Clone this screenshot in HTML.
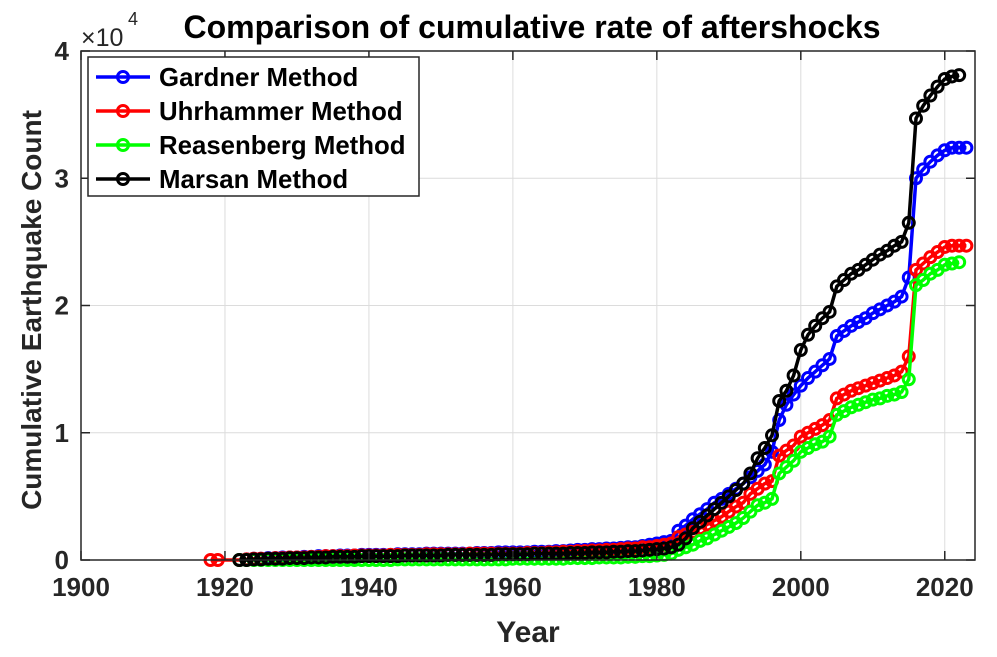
<!DOCTYPE html>
<html><head><meta charset="utf-8"><style>
body{margin:0;background:#fff;font-family:"Liberation Sans",Arial,sans-serif}
svg text{font-family:"Liberation Sans",Arial,sans-serif;font-weight:bold}
</style></head><body>
<svg id="c" width="997" height="652" viewBox="0 0 997 652" xmlns="http://www.w3.org/2000/svg">
<rect width="997" height="652" fill="#fff"/>
<g id="grid"></g><g id="series"></g><g id="axes"></g>
</svg>
<script>
const xTicks=[1900,1920,1940,1960,1980,2000,2020];
const yTicks=[0,1,2,3,4];
const seriesNames=["Gardner Method","Uhrhammer Method","Reasenberg Method","Marsan Method"];
const early=[1922,1923,1924,1925,1926,1927,1928,1929,1930,1931,1932,1933,1934,1935,1936,1937,1938,1939,1940,1941,1942,1943,1944,1945,1946,1947,1948,1949,1950,1951,1952,1953,1954,1955,1956,1957,1958,1959,1960,1961,1962,1963,1964,1965,1966,1967,1968,1969,1970,1971,1972,1973,1974,1975,1976,1977,1978,1979,1980,1981,1982,1983,1984,1985,1986,1987,1988,1989,1990,1991,1992,1993,1994,1995,1996,1997,1998,1999,2000,2001,2002,2003,2004,2005,2006,2007,2008,2009,2010,2011,2012,2013,2014,2015,2016,2017,2018,2019,2020,2021,2022];
const gardnerYears=early.concat([2023]);
const gardnerVals=[0,0.005,0.01,0.01,0.015,0.015,0.02,0.02,0.02,0.025,0.025,0.03,0.03,0.03,0.035,0.035,0.035,0.04,0.04,0.04,0.04,0.04,0.045,0.045,0.045,0.045,0.05,0.05,0.05,0.05,0.05,0.05,0.05,0.055,0.055,0.055,0.06,0.06,0.06,0.06,0.06,0.065,0.065,0.065,0.07,0.07,0.075,0.08,0.08,0.085,0.085,0.09,0.09,0.095,0.1,0.1,0.11,0.12,0.13,0.14,0.15,
0.23,0.27,0.32,0.36,0.4,0.45,0.48,0.52,0.56,0.6,0.65,0.7,0.75,0.85,1.1,1.22,1.3,1.37,1.43,1.48,1.53,1.58,1.76,1.8,1.84,1.87,1.9,1.94,1.97,2.0,2.03,2.07,2.22,3.0,3.07,3.13,3.18,3.22,3.24,3.24,3.24];
const uhrYears=[1918,1919].concat(early,[2023]);
const uhrVals=[0,0,0,0.005,0.01,0.01,0.01,0.015,0.015,0.02,0.02,0.02,0.025,0.025,0.03,0.03,0.03,0.03,0.035,0.035,0.035,0.035,0.035,0.04,0.04,0.04,0.04,0.04,0.045,0.045,0.045,0.045,0.045,0.045,0.05,0.05,0.05,0.05,0.05,0.05,0.05,0.05,0.055,0.055,0.055,0.06,0.06,0.065,0.065,0.07,0.07,0.075,0.075,0.08,0.08,0.085,0.09,0.09,0.1,0.1,0.11,0.12,0.13,
0.18,0.2,0.22,0.25,0.28,0.31,0.34,0.38,0.42,0.45,0.52,0.56,0.6,0.62,0.82,0.86,0.9,0.97,1.0,1.03,1.06,1.1,1.27,1.3,1.33,1.35,1.37,1.39,1.41,1.43,1.45,1.48,1.6,2.28,2.33,2.38,2.42,2.46,2.47,2.47,2.47];
const reasYears=early;
const reasVals=[0,0,0,0,0,0,0,0,0,0,0,0,0,0,0,0,0,0,0,0,0,0,0.005,0.005,0.005,0.005,0.005,0.005,0.005,0.005,0.005,0.005,0.005,0.005,0.005,0.005,0.005,0.005,0.01,0.01,0.01,0.01,0.01,0.01,0.01,0.01,0.015,0.015,0.015,0.015,0.02,0.02,0.02,0.02,0.025,0.025,0.03,0.03,0.035,0.04,0.05,
0.08,0.1,0.12,0.15,0.17,0.2,0.23,0.26,0.29,0.33,0.38,0.43,0.45,0.48,0.68,0.73,0.78,0.85,0.88,0.91,0.93,0.97,1.14,1.17,1.2,1.22,1.24,1.26,1.27,1.29,1.3,1.32,1.42,2.16,2.2,2.25,2.28,2.32,2.33,2.34];
const marsYears=early;
const marsVals=[0,0,0.005,0.005,0.01,0.01,0.01,0.015,0.015,0.015,0.02,0.02,0.02,0.025,0.025,0.025,0.025,0.03,0.03,0.03,0.03,0.03,0.03,0.035,0.035,0.035,0.035,0.035,0.035,0.04,0.04,0.04,0.04,0.04,0.04,0.04,0.045,0.045,0.045,0.045,0.045,0.05,0.05,0.05,0.05,0.05,0.055,0.055,0.055,0.06,0.06,0.06,0.065,0.065,0.07,0.07,0.075,0.08,0.085,0.09,0.1,
0.12,0.17,0.25,0.3,0.35,0.4,0.45,0.5,0.55,0.6,0.68,0.8,0.88,0.98,1.25,1.33,1.45,1.65,1.77,1.84,1.9,1.95,2.15,2.2,2.25,2.28,2.32,2.36,2.4,2.43,2.47,2.5,2.65,3.47,3.57,3.65,3.72,3.78,3.8,3.81];

const L=81,R=975,T=51,B=560,X0=1900,X1=2024.2,Y1=4;
const sx=v=>L+(v-X0)/(X1-X0)*(R-L);
const sy=v=>B-v/Y1*(B-T);
const NS="http://www.w3.org/2000/svg";
function mk(tag,attrs,parent,txt){const e=document.createElementNS(NS,tag);for(const k in attrs)e.setAttribute(k,attrs[k]);if(txt!==undefined)e.textContent=txt;parent.appendChild(e);return e;}
const grid=document.getElementById('grid'),ser=document.getElementById('series'),axes=document.getElementById('axes');
xTicks.forEach(t=>{const x=sx(t);
 const g=mk('line',{x1:x,x2:x,y1:T,y2:B,stroke:'#dcdcdc','stroke-width':1},grid);
 
 mk('line',{x1:x,x2:x,y1:B,y2:B-9,stroke:'#262626','stroke-width':1.5},axes);
 mk('line',{x1:x,x2:x,y1:T,y2:T+9,stroke:'#262626','stroke-width':1.5},axes);
 const l=mk('text',{x:x,y:B+36,'text-anchor':'middle','font-size':26,fill:'#262626'},axes,t);
 });
yTicks.forEach(t=>{const y=sy(t);
 const g=mk('line',{x1:L,x2:R,y1:y,y2:y,stroke:'#dcdcdc','stroke-width':1},grid);
 
 mk('line',{x1:L,x2:L+9,y1:y,y2:y,stroke:'#262626','stroke-width':1.5},axes);
 mk('line',{x1:R,x2:R-9,y1:y,y2:y,stroke:'#262626','stroke-width':1.5},axes);
 const l=mk('text',{x:L-12,y:y+9,'text-anchor':'end','font-size':26,fill:'#262626'},axes,t);
 });
const box=mk('rect',{x:L,y:T,width:R-L,height:B-T,fill:'none',stroke:'#262626','stroke-width':1.5},axes);

const data=[[gardnerYears,gardnerVals,'#0000ff'],[uhrYears,uhrVals,'#ff0000'],[reasYears,reasVals,'#00ff00'],[marsYears,marsVals,'#000000']];
const ids=['gardner','uhrhammer','reasenberg','marsan'];
data.forEach((d,i)=>{const g=mk('g',{},ser);
 
 const n=Math.min(d[0].length,d[1].length);
 const pts=d[0].slice(0,n).map((yr,j)=>sx(yr).toFixed(1)+','+sy(d[1][j]).toFixed(1)).join(' ');
 const pl=mk('polyline',{points:pts,fill:'none',stroke:d[2],'stroke-width':3.5},g);
 
 d[0].slice(0,n).forEach((yr,j)=>{const c=mk('circle',{cx:sx(yr),cy:sy(d[1][j]),r:5.5,fill:'none',stroke:d[2],'stroke-width':3},g);
  });});
// legend
const lg=mk('g',{},axes);
mk('rect',{x:88,y:57,width:331,height:139,fill:'#fff',stroke:'#262626','stroke-width':1.5},lg);
seriesNames.forEach((n,i)=>{const y=77+i*34;const e=mk('g',{},lg);
 
 mk('line',{x1:96,x2:150,y1:y,y2:y,stroke:data[i][2],'stroke-width':3.5},e);
 mk('circle',{cx:123,cy:y,r:5.5,fill:'none',stroke:data[i][2],'stroke-width':3},e);
 mk('text',{x:159,y:y+9,'font-size':25.8,fill:'#000'},e,n);});
const t=mk('text',{x:532,y:38,'text-anchor':'middle','font-size':32,fill:'#000'},axes,'Comparison of cumulative rate of aftershocks');

const ex=mk('text',{x:81,y:46,'font-size':25,fill:'#262626'},axes,'×10');

ex.setAttribute('style','font-weight:normal');
const e4=mk('text',{x:128,y:25,'font-size':18,fill:'#262626'},axes,'4');
e4.setAttribute('style','font-weight:normal');
const xl=mk('text',{x:528,y:642,'text-anchor':'middle','font-size':30,fill:'#262626'},axes,'Year');

const yl=mk('text',{x:0,y:0,'text-anchor':'middle','font-size':28,fill:'#262626',transform:'translate(41,310) rotate(-90)'},axes,'Cumulative Earthquake Count');

</script>
</body></html>
